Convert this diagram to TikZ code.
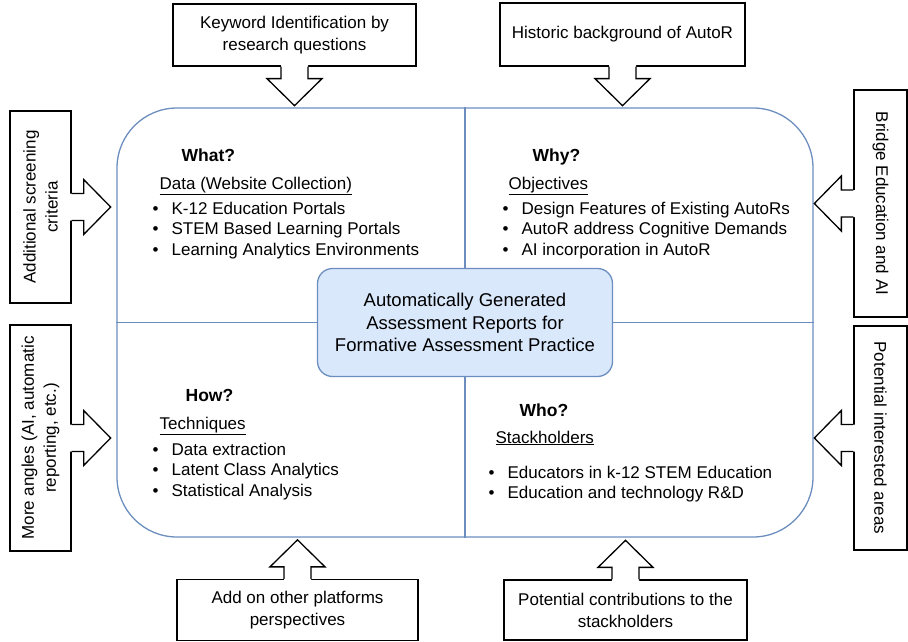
\documentclass[tikz,border=0pt]{standalone}
\usepackage{fontspec}
\setmainfont{Liberation Sans}
\usepackage{xcolor}
\definecolor{dnkhung}{HTML}{6C8EBF}
\definecolor{dnnen}{HTML}{DAE8FC}
\def\mauvien{dnkhung}
\def\maunen{dnnen}
\usepackage{tikz}
\usetikzlibrary{calc,positioning}
\newcommand{\bulletmark}{\makebox[20pt][l]{\hspace{1pt}\textbullet}}

\begin{document}
\begin{tikzpicture}[x=1pt,y=-1pt,line width=1.3pt,
		font=\fontsize{17}{22}\selectfont]%
		\tikzset{
			blockarrow/.pic={
				\path[fill=white] (-2,-13.5)--(12,-13.5)--(12,-27.5)--(39,0)--(12,27.5)--(12,13.5)--(-2,13.5)--cycle;
				\draw[pic actions] (0,-13.5)--(12,-13.5)--(12,-27.5)--(39,0)--(12,27.5)--(12,13.5)--(0,13.5);
				%%
			},
			callbox/.style={draw,fill=white,align=center,inner sep=0pt},
			headfont/.style={anchor=base west,inner sep=0pt,font=\fontsize{17.5}{22}\selectfont\bfseries},
			subfont/.style={anchor=base west,inner sep=0pt},
			itemfont/.style={anchor=base west,inner sep=0pt}
		}
		\useasboundingbox (0,0) rectangle (908,642);
		%%%Khung chinh
		\node[draw=\mauvien,rounded corners=60pt,minimum width=696,minimum height=429,inner sep=0pt] (frame) at (465,322.5) {};
		\draw[\mauvien] (frame.north)--(frame.south);
		\draw[\mauvien] (frame.west)--(frame.east);
		\node[draw=\mauvien,fill=\maunen,rounded corners=15pt,minimum width=295,minimum height=108,align=center,
			font=\fontsize{18.5}{22.5}\selectfont] (core) at (frame.center) {Automatically Generated\\Assessment Reports for\\Formative Assessment Practice};
		%%%What?
		\node[headfont] (what) at (181,161) {What?};
		\node[subfont] (whatsub) at (159,189) {\underline{Data (Website Collection)}};
		\foreach \t [count=\i] in {K-12 Education Portals,STEM Based Learning Portals,Learning Analytics Environments}{%
			\node[itemfont] (what-\i) at (151,{214+20.5*(\i-1)}) {\bulletmark\t};
		}
		%%%Why?
		\node[headfont] (why) at (532,161) {Why?};
		\node[subfont] (whysub) at (508,189) {\underline{Objectives}};
		\foreach \t [count=\i] in {Design Features of Existing AutoRs,AutoR address Cognitive Demands,AI incorporation in AutoR}{%
			\node[itemfont] (why-\i) at (501,{214+20.5*(\i-1)}) {\bulletmark\t};
		}
		%%%How?
		\node[headfont] (how) at (185,401) {How?};
		\node[subfont] (howsub) at (159,429) {\underline{Techniques}};
		\foreach \t [count=\i] in {Data extraction,Latent Class Analytics,Statistical Analysis}{%
			\node[itemfont] (how-\i) at (151,{455+20.5*(\i-1)}) {\bulletmark\t};
		}
		%%%Who?
		\node[headfont] (who) at (519,416) {Who?};
		\node[subfont] (whosub) at (495,443) {\underline{Stackholders}};
		\foreach \t [count=\i] in {Educators in k-12 STEM Education,Education and technology R\&D}{%
			\node[itemfont] (who-\i) at (487,{478+20.5*(\i-1)}) {\bulletmark\t};
		}
		%%%Cac hop chu thich
		\node[callbox,minimum width=243,minimum height=62] (keyword) at (294.5,35) {Keyword Identification by\\research questions};
		\node[callbox,minimum width=245,minimum height=63] (history) at (622.5,34.5) {Historic background of AutoR};
		\node[callbox,rotate=90,minimum width=192,minimum height=61] (screening) at (40.5,207) {Additional screening\\criteria};
		\node[callbox,rotate=90,minimum width=226,minimum height=61] (angles) at (40.5,438) {More angles (AI, automatic\\reporting, etc.)};
		\node[callbox,rotate=-90,minimum width=227,minimum height=53] (bridge) at (880.5,203.5) {Bridge Education and AI};
		\node[callbox,rotate=-90,minimum width=224,minimum height=53] (potential) at (880.5,438) {Potential interested areas};
		\node[callbox,minimum width=241,minimum height=61] (addon) at (297.5,610) {Add on other platforms\\perspectives};
		\node[callbox,minimum width=243,minimum height=60] (contrib) at (625.5,610) {Potential contributions to the\\stackholders};
		%%%Mui ten
		\path (keyword.south) pic[rotate=-90] {blockarrow};
		\path (history.south) pic[rotate=-90] {blockarrow};
		\path (screening.south) pic {blockarrow};
		\path (angles.south) pic {blockarrow};
		\path (bridge.south) pic[rotate=180] {blockarrow};
		\path (potential.south) pic[rotate=180] {blockarrow};
		\path (addon.north) pic[rotate=90] {blockarrow};
		\path (contrib.north) pic[rotate=90] {blockarrow};
	\end{tikzpicture}
\end{document}
